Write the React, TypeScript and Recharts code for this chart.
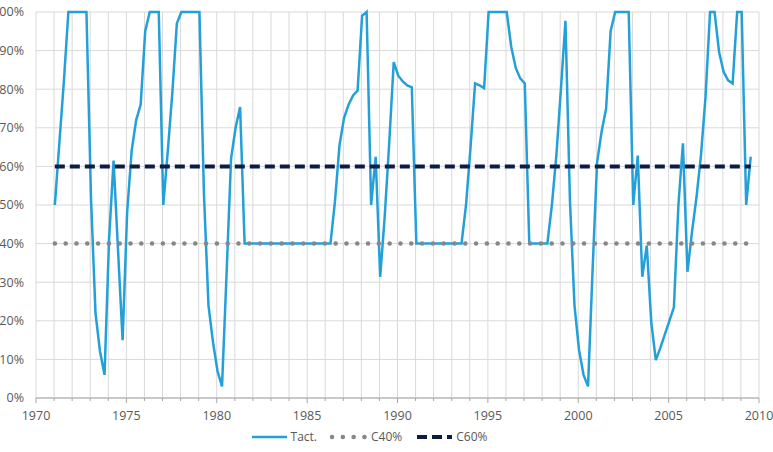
import { CartesianGrid, Legend, Line, LineChart, XAxis, YAxis } from "recharts";

const FIRST_YEAR = 1971;

// Tact. in %, one value per quarter, 1971Q1 .. 2009Q3
const tact = [
  50, 66, 82, 100, // 1971
  100, 100, 100, 100, // 1972
  52, 22, 12, 6, // 1973
  41, 61.5, 38, 15, // 1974
  48, 64, 72, 76, // 1975
  95, 100, 100, 100, // 1976
  50, 64, 79, 97, // 1977
  100, 100, 100, 100, // 1978
  100, 53, 24, 14.5, // 1979
  7, 3, 32, 62, // 1980
  70, 75.4, 40, 40, // 1981
  40, 40, 40, 40, // 1982
  40, 40, 40, 40, // 1983
  40, 40, 40, 40, // 1984
  40, 40, 40, 40, // 1985
  40, 40, 51, 65.5, // 1986
  72.5, 76, 78.4, 79.6, // 1987
  99, 100, 50, 62.5, // 1988
  31.4, 47, 66, 87, // 1989
  83.5, 82, 81, 80.5, // 1990
  40, 40, 40, 40, // 1991
  40, 40, 40, 40, // 1992
  40, 40, 40, 50, // 1993
  65, 81.5, 81, 80.3, // 1994
  100, 100, 100, 100, // 1995
  100, 91, 85.5, 82.8, // 1996
  81.5, 40, 40, 40, // 1997
  40, 40, 50, 63, // 1998
  80, 97.7, 51, 24, // 1999
  12.5, 6, 3, 33, // 2000
  61, 69, 75, 95, // 2001
  100, 100, 100, 100, // 2002
  50, 62.8, 31.4, 39.5, // 2003
  19.5, 9.8, 13, 16.5, // 2004
  20, 23.5, 50, 66, // 2005
  32.7, 43, 52, 63, // 2006
  78, 100, 100, 89.6, // 2007
  84.5, 82.3, 81.5, 100, // 2008
  100, 50, 62.5, // 2009
];

const C40 = 40;
const C60 = 60;

const seriesOrder = ["Tact.", "C40%", "C60%"];
const xTicks = Array.from({ length: 41 }, (_, i) => 1970 + i);
const yTicks = [0, 10, 20, 30, 40, 50, 60, 70, 80, 90, 100];

// each quarter is dated at the middle of its first month
const rows = tact.map((v, i) => ({
  t: FIRST_YEAR + Math.floor(i / 4) + ((i % 4) * 3 + 0.5) / 12,
  tact: v,
  c40: C40,
  c60: C60,
}));

const TEXT = "#595959";

function YearTick({ x, y, payload }: any) {
  const major = payload.value % 5 === 0;
  return (
    <g>
      <line x1={x} x2={x} y1={y} y2={y + (major ? 5 : 3)} stroke="#a6a6a6" />
      {major && (
        <text x={x} y={y + 22} textAnchor="middle" fill={TEXT} fontSize={12.5}>
          {payload.value}
        </text>
      )}
    </g>
  );
}

function LegendContent({ payload }: any) {
  const items = [...(payload || [])].sort(
    (a: any, b: any) => seriesOrder.indexOf(a.value) - seriesOrder.indexOf(b.value)
  );
  return (
    <div style={{ display: "flex", justifyContent: "center", alignItems: "center", paddingRight: 9 }}>
      {items.map((e: any) => (
        <div key={e.value} style={{ display: "flex", alignItems: "center", marginRight: 13 }}>
          <svg width={38} height={10} style={{ marginRight: 3 }}>
            <line
              x1={2}
              x2={37}
              y1={5}
              y2={5}
              stroke={e.color}
              strokeWidth={e.payload.strokeWidth}
              strokeDasharray={e.payload.strokeDasharray}
              strokeLinecap={e.payload.strokeLinecap}
            />
          </svg>
          <span style={{ fontSize: 12, color: TEXT }}>{e.value}</span>
        </div>
      ))}
    </div>
  );
}

export default function App() {
  return (
    <div style={{ position: "absolute", left: 0, top: 0, fontFamily: "'Open Sans', sans-serif" }}>
      <LineChart width={773} height={452} data={rows} margin={{ top: 12, right: 14, left: 0, bottom: 6 }}>
        <CartesianGrid stroke="#d9d9d9" />
        <XAxis
          dataKey="t"
          type="number"
          domain={[1970, 2010]}
          ticks={xTicks}
          interval={0}
          tick={<YearTick />}
          tickLine={false}
          tickSize={0}
          tickMargin={0}
          axisLine={{ stroke: "#a6a6a6" }}
          height={30}
        />
        <YAxis
          type="number"
          domain={[0, 100]}
          ticks={yTicks}
          tickFormatter={(v: number) => `${v}%`}
          tick={{ fill: TEXT, fontSize: 12.5 }}
          tickLine={false}
          axisLine={false}
          tickMargin={6}
          width={36}
        />
        <Legend verticalAlign="bottom" height={18} content={<LegendContent />} />
        <Line
          dataKey="tact"
          name="Tact."
          stroke="#24a0d8"
          strokeWidth={2.5}
          dot={false}
          isAnimationActive={false}
        />
        <Line
          dataKey="c40"
          name="C40%"
          stroke="#878787"
          strokeWidth={4.5}
          strokeDasharray="0.1 10.7"
          strokeLinecap="round"
          dot={false}
          isAnimationActive={false}
        />
        <Line
          dataKey="c60"
          name="C60%"
          stroke="#0c1c45"
          strokeWidth={4}
          strokeDasharray="10 5"
          dot={false}
          isAnimationActive={false}
        />
      </LineChart>
    </div>
  );
}
